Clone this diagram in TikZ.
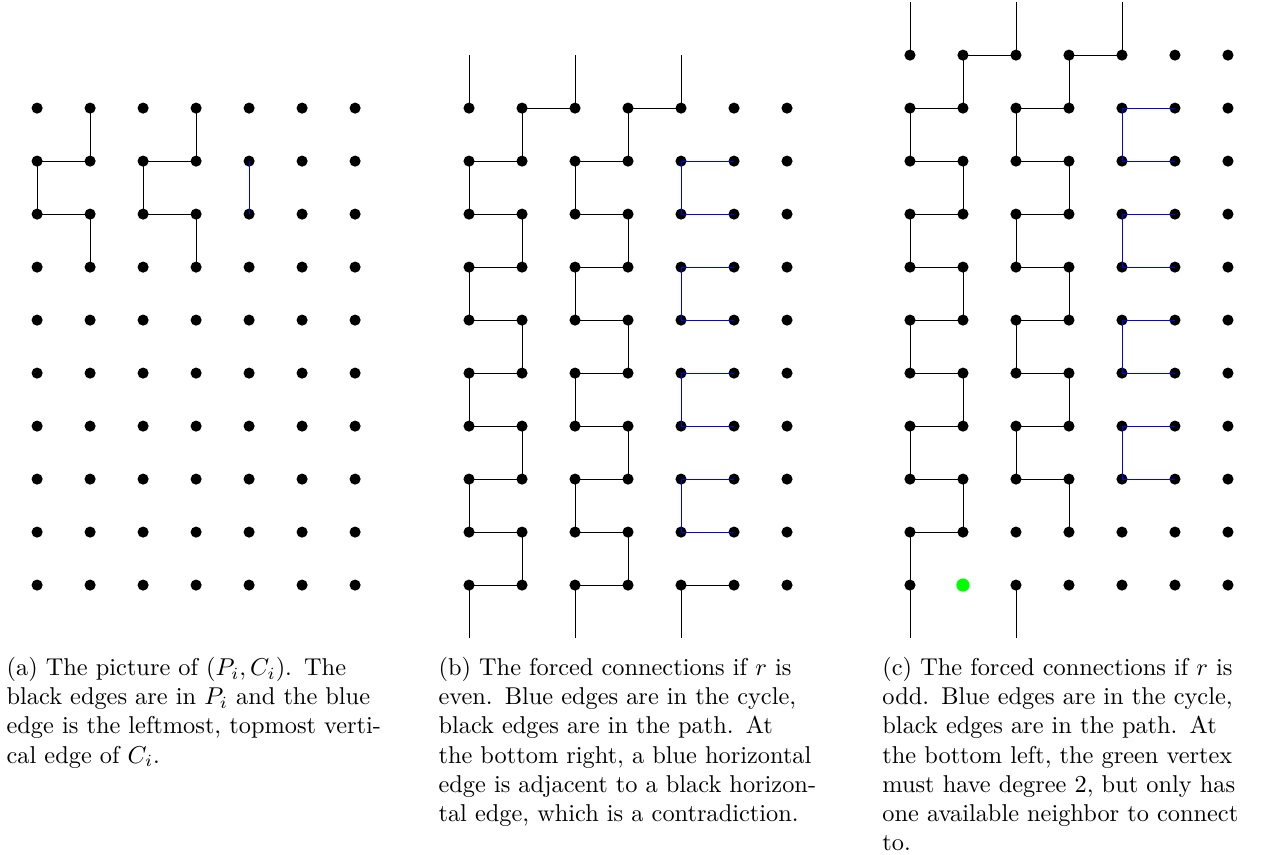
\documentclass[tikz,border=0pt]{standalone}
\usepackage{amsmath,amssymb}
\usepackage{xcolor}
\usepackage{tikz}
\usetikzlibrary{positioning, calc}

\tikzset{
    vtx/.style={circle, fill=black, inner sep=0pt, minimum size=0.21cm},
    greenvtx/.style={circle, fill=green, inner sep=0pt, minimum size=0.25cm},
    pathedge/.style={black},
    cycedge/.style={blue},
    capbox/.style={anchor=north, text width=5.47cm, inner sep=0pt, scale=1.307, transform shape, font=\normalsize}
}

\begin{document}
\begin{tikzpicture}
    \useasboundingbox (0,0) rectangle (24.02,16.13);

    % (a) Picture of (P_i, C_i)
    \begin{scope}[shift={(0.70,14.09)}]
        \foreach \i in {0,...,6}
            \foreach \j in {0,...,9}
                \node[vtx] (a-\i-\j) at (\i,-\j) {};
        % Path edges
        \foreach \k/\l in {0/1,2/3}
            \draw[pathedge] (a-\l-0.center) -- (a-\l-1.center) -- (a-\k-1.center) -- (a-\k-2.center) -- (a-\l-2.center) -- (a-\l-3.center);
        % Cycle edge
        \draw[cycedge] (a-4-1.center) -- (a-4-2.center);
    \end{scope}

    % (b) r even
    \begin{scope}[shift={(8.85,14.09)}]
        \foreach \i in {0,...,6}
            \foreach \j in {0,...,9}
                \node[vtx] (b-\i-\j) at (\i,-\j) {};
        % Loose ends
        \foreach \i in {0,2,4} {
            \coordinate (b-top-\i) at (\i,1);
            \coordinate (b-bot-\i) at (\i,-10);
            \draw[pathedge] (b-\i-0.center) -- (b-top-\i);
            \draw[pathedge] (b-\i-9.center) -- (b-bot-\i);
        }
        % Top row
        \draw[pathedge] (b-2-0.center) -- (b-1-0.center);
        \draw[pathedge] (b-4-0.center) -- (b-3-0.center);
        % Horizontal path edges
        \foreach \j in {1,...,9} {
            \draw[pathedge] (b-0-\j.center) -- (b-1-\j.center);
            \draw[pathedge] (b-2-\j.center) -- (b-3-\j.center);
        }
        \draw[pathedge] (b-4-9.center) -- (b-5-9.center);
        % Vertical path edges
        \foreach \j/\jj in {0/1,2/3,4/5,6/7,8/9} {
            \draw[pathedge] (b-1-\j.center) -- (b-1-\jj.center);
            \draw[pathedge] (b-3-\j.center) -- (b-3-\jj.center);
        }
        \foreach \j/\jj in {1/2,3/4,5/6,7/8} {
            \draw[pathedge] (b-0-\j.center) -- (b-0-\jj.center);
            \draw[pathedge] (b-2-\j.center) -- (b-2-\jj.center);
        }
        % Cycle edges
        \foreach \j/\jj in {1/2,3/4,5/6,7/8}
            \draw[cycedge] (b-5-\j.center) -- (b-4-\j.center) -- (b-4-\jj.center) -- (b-5-\jj.center);
    \end{scope}

    % (c) r odd
    \begin{scope}[shift={(17.17,15.09)}]
        \foreach \i in {0,...,6}
            \foreach \j in {0,...,10} {
                \ifnum\i=1 \ifnum\j=10 \def\vst{greenvtx}\else\def\vst{vtx}\fi\else\def\vst{vtx}\fi
                \node[\vst] (c-\i-\j) at (\i,-\j) {};
            }
        % Loose ends
        \foreach \i in {0,2,4} {
            \coordinate (c-top-\i) at (\i,1);
            \draw[pathedge] (c-\i-0.center) -- (c-top-\i);
        }
        \foreach \i in {0,2} {
            \coordinate (c-bot-\i) at (\i,-11);
            \draw[pathedge] (c-\i-10.center) -- (c-bot-\i);
        }
        % Top row
        \draw[pathedge] (c-2-0.center) -- (c-1-0.center);
        \draw[pathedge] (c-4-0.center) -- (c-3-0.center);
        % Horizontal path edges
        \foreach \j in {1,...,8} {
            \draw[pathedge] (c-0-\j.center) -- (c-1-\j.center);
            \draw[pathedge] (c-2-\j.center) -- (c-3-\j.center);
        }
        \draw[pathedge] (c-0-9.center) -- (c-1-9.center);
        % Vertical path edges
        \foreach \j/\jj in {0/1,2/3,4/5,6/7,8/9} {
            \draw[pathedge] (c-1-\j.center) -- (c-1-\jj.center);
            \draw[pathedge] (c-3-\j.center) -- (c-3-\jj.center);
        }
        \foreach \j/\jj in {1/2,3/4,5/6,7/8} {
            \draw[pathedge] (c-0-\j.center) -- (c-0-\jj.center);
            \draw[pathedge] (c-2-\j.center) -- (c-2-\jj.center);
        }
        \draw[pathedge] (c-0-9.center) -- (c-0-10.center);
        % Cycle edges
        \foreach \j/\jj in {1/2,3/4,5/6,7/8}
            \draw[cycedge] (c-5-\j.center) -- (c-4-\j.center) -- (c-4-\jj.center) -- (c-5-\jj.center);
    \end{scope}

    % Captions
    \node[capbox] (capa) at (3.70,3.74) {(a) The picture of $(P_i,C_i)$. The black edges are in $P_i$ and the blue edge is the leftmost, topmost vertical edge of $C_i$.};
    \node[capbox] (capb) at (11.85,3.74) {(b) The forced connections if $r$ is even. Blue edges are in the cycle, black edges are in the path. At the bottom right, a blue horizontal edge is adjacent to a black horizontal edge, which is a contradiction.};
    \node[capbox, text width=5.37cm] (capc) at (20.16,3.74) {(c) The forced connections if $r$ is odd. Blue edges are in the cycle, black edges are in the path. At the bottom left, the green vertex must have degree 2, but only has one available neighbor to connect to.};
\end{tikzpicture}
\end{document}
